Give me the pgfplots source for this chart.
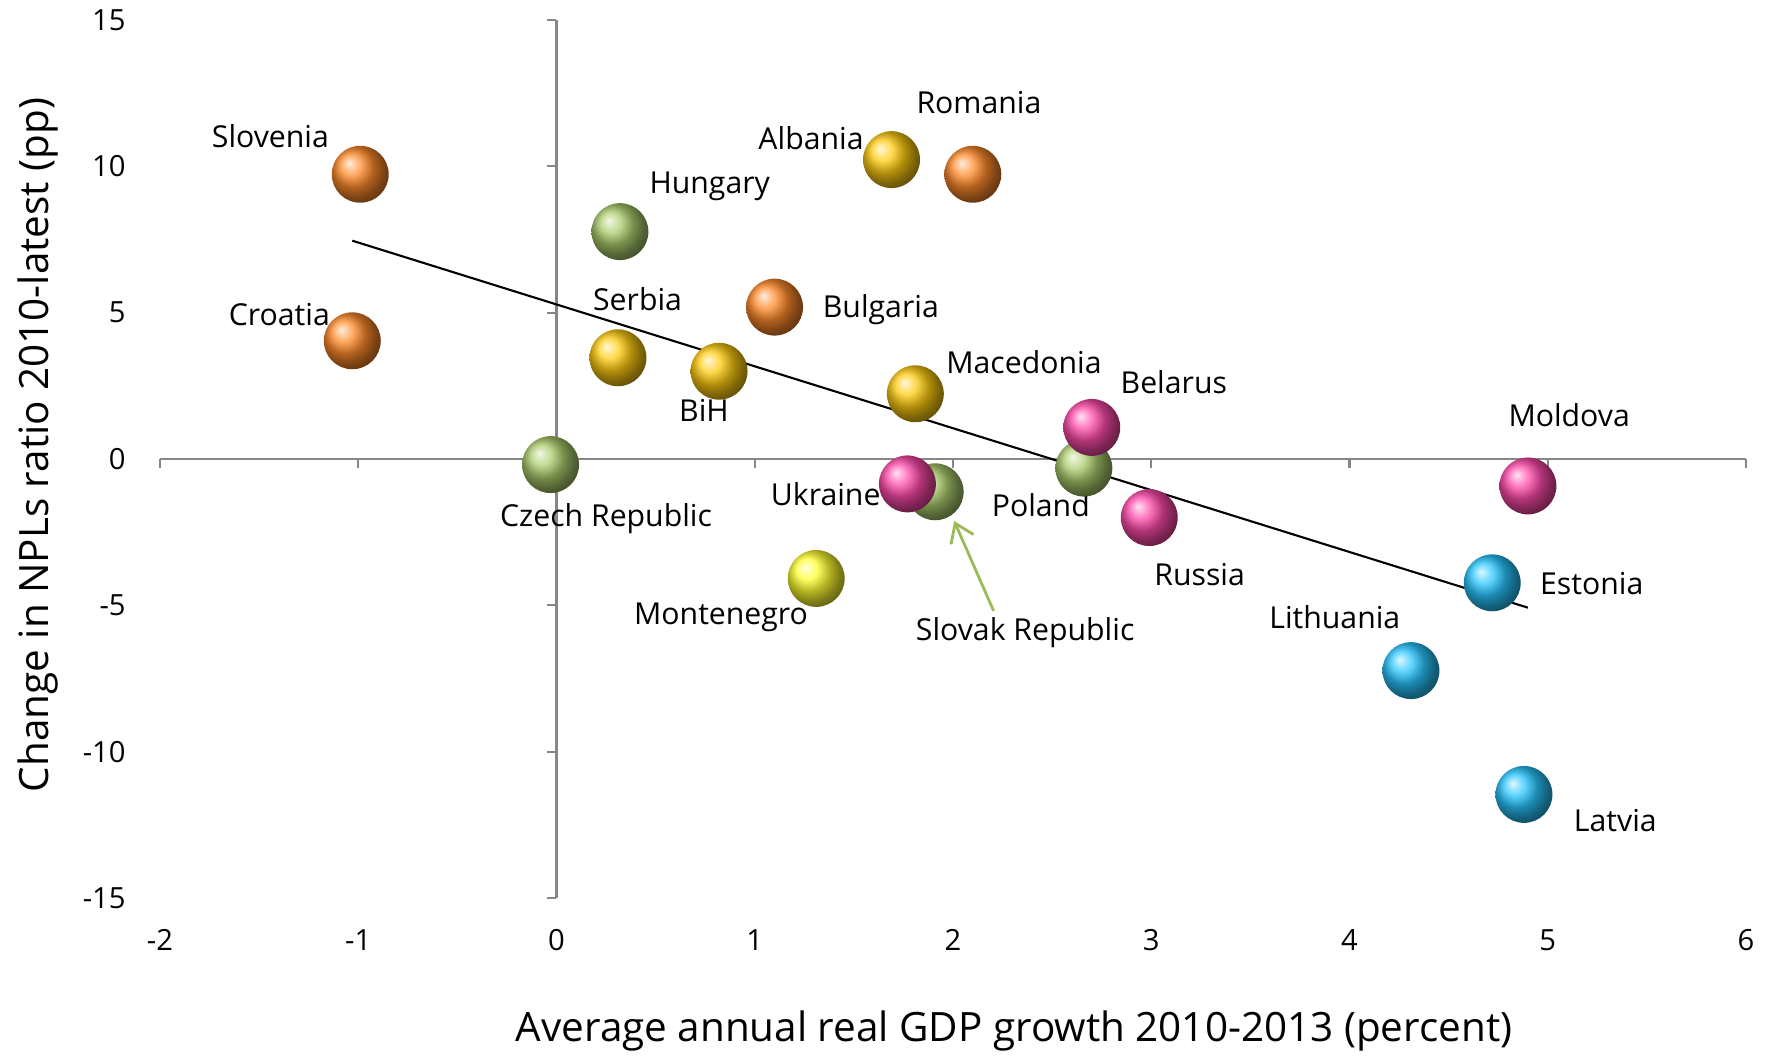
\documentclass[border=0pt]{standalone}
\usepackage{pgfplots}
\pgfplotsset{compat=1.18}
\usepackage{fontspec}
\setmainfont{Open Sans}
\usetikzlibrary{arrows.meta}
\definecolor{corange}{HTML}{FF8A2A}
\definecolor{cgreen}{HTML}{ABCC6C}
\definecolor{cgold}{HTML}{FFCC10}
\definecolor{cyellow}{HTML}{FFFF30}
\definecolor{cpink}{HTML}{FF4AAA}
\definecolor{ccyan}{HTML}{28C6FF}
\definecolor{arrgreen}{HTML}{9BBB59}
\definecolor{axgray}{HTML}{868686}
\tikzset{lbl/.style={font=\fontsize{8.6}{10}\selectfont, inner sep=0pt}}
\begin{document}
\begin{tikzpicture}
\path[use as bounding box] (-1.60,-1.57) rectangle (16.06,8.98);
\begin{axis}[
  at={(0,0)}, anchor=south west,
  scale only axis, width=15.86cm, height=8.78cm,
  xmin=-2, xmax=6, ymin=-15, ymax=15,
  xtick={-2,-1,0,1,2,3,4,5,6}, ytick={-15,-10,-5,0,5,10,15},
  axis x line*=bottom, axis y line*=left,
  axis line style={draw=none},
  major tick length=0pt, tick style={draw=none},
  ticklabel style={font=\fontsize{8.3}{10}\selectfont},
  /pgf/number format/assume math mode=true,
  xticklabel style={yshift=-0.19cm},
  yticklabel style={xshift=-0.22cm},
  clip=false,
]
% middle axes
\draw[axgray, line width=0.6pt] (axis cs:-2,0) -- (axis cs:6,0);
\draw[axgray, line width=0.6pt] (axis cs:0,-15) -- (axis cs:0,15);
\pgfplotsinvokeforeach{-2,-1,0,1,2,3,4,5,6}{\draw[axgray, line width=0.6pt] (axis cs:#1,0) -- ++(0pt,-2.6pt);}
\pgfplotsinvokeforeach{-15,-10,-5,0,5,10,15}{\draw[axgray, line width=0.6pt] (axis cs:0,#1) -- ++(-2.6pt,0pt);}

% orange
\addplot[only marks, mark=ball, mark size=8.1pt, mark options={ball color=corange, draw opacity=0}] coordinates {
 (-0.99,9.73) (-1.03,4.04) (1.10,5.19) (2.10,9.73)};
% green
\addplot[only marks, mark=ball, mark size=8.1pt, mark options={ball color=cgreen, draw opacity=0}] coordinates {
 (0.32,7.77) (-0.03,-0.19) (1.91,-1.12) (2.66,-0.31)};
% gold
\addplot[only marks, mark=ball, mark size=8.1pt, mark options={ball color=cgold, draw opacity=0}] coordinates {
 (1.69,10.23) (0.31,3.46) (0.82,3.00) (1.81,2.23)};
% yellow
\addplot[only marks, mark=ball, mark size=8.1pt, mark options={ball color=cyellow, draw opacity=0}] coordinates {
 (1.31,-4.08)};
% pink
\addplot[only marks, mark=ball, mark size=8.1pt, mark options={ball color=cpink, draw opacity=0}] coordinates {
 (1.77,-0.85) (2.70,1.08) (2.99,-2.00) (4.90,-0.92)};
% cyan
\addplot[only marks, mark=ball, mark size=8.1pt, mark options={ball color=ccyan, draw opacity=0}] coordinates {
 (4.72,-4.23) (4.31,-7.23) (4.88,-11.46)};
% trend line
\addplot[black, line width=0.6pt] coordinates {(-1.03,7.46) (4.90,-5.08)};

\draw[arrgreen, line width=0.8pt, -{Straight Barb[length=5pt,width=7pt]}] (axis cs:2.205,-5.19) -- (axis cs:2.006,-2.12);

\node[lbl] at (axis cs:-1.443,11.04) {Slovenia};
\node[lbl] at (axis cs:-1.398,4.92) {Croatia};
\node[lbl] at (axis cs:0.773,9.31) {Hungary};
\node[lbl] at (axis cs:0.409,5.46) {Serbia};
\node[lbl] at (axis cs:0.744,1.65) {BiH};
\node[lbl] at (axis cs:1.636,5.12) {Bulgaria};
\node[lbl] at (axis cs:1.284,10.96) {Albania};
\node[lbl] at (axis cs:2.131,12.19) {Romania};
\node[lbl] at (axis cs:2.358,3.31) {Macedonia};
\node[lbl] at (axis cs:3.114,2.62) {Belarus};
\node[lbl] at (axis cs:5.108,1.50) {Moldova};
\node[lbl] at (axis cs:0.25,-2.04) {Czech Republic};
\node[lbl] at (axis cs:1.358,-1.19) {Ukraine};
\node[lbl] at (axis cs:2.443,-1.58) {Poland};
\node[lbl] at (axis cs:3.244,-3.96) {Russia};
\node[lbl] at (axis cs:5.222,-4.27) {Estonia};
\node[lbl] at (axis cs:3.926,-5.42) {Lithuania};
\node[lbl] at (axis cs:0.83,-5.42) {Montenegro};
\node[lbl] at (axis cs:2.364,-5.92) {Slovak Republic};
\node[lbl] at (axis cs:5.341,-12.35) {Latvia};
\end{axis}
\node[font=\fontsize{11.5}{13}\selectfont] at (8.54,-1.33) {Average annual real GDP growth 2010-2013 (percent)};
\node[font=\fontsize{11.5}{13}\selectfont, rotate=90] at (-1.22,4.53) {Change in NPLs ratio 2010-latest (pp)};
\end{tikzpicture}
\end{document}
